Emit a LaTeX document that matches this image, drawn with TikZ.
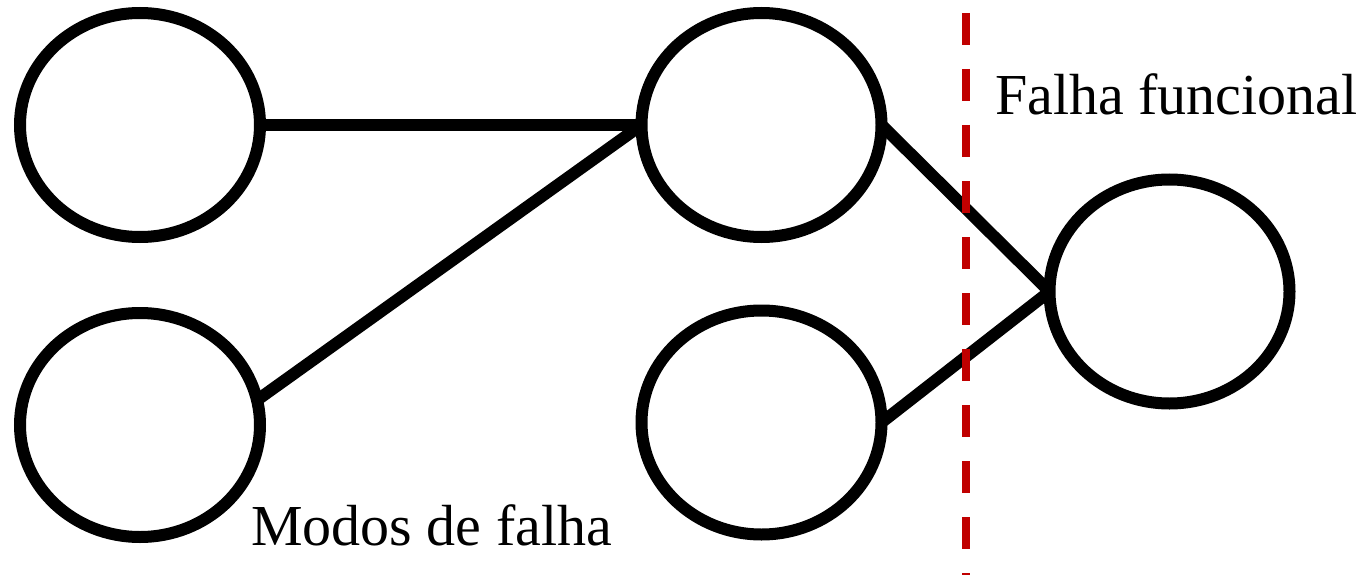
\documentclass[tikz,border=0pt]{standalone}
\usepackage{fontspec}
\setmainfont{Liberation Serif}
\usetikzlibrary{shapes.geometric}
\definecolor{cutred}{RGB}{192,0,0}
\tikzset{
  blob/.style={ellipse, draw=black, line width=12pt, minimum width=240pt, minimum height=224pt, inner sep=0pt, outer sep=0pt},
  link/.style={draw=black, line width=12pt},
  cutline/.style={draw=cutred, line width=8pt, dash pattern=on 32pt off 24pt},
  label/.style={font=\fontsize{58}{70}\selectfont, inner sep=0pt, anchor=base west}
}
\begin{document}
\begin{tikzpicture}[x=1pt,y=-1pt]
\useasboundingbox (0,0) rectangle (1365,575);
\node[blob] (A) at (140,125) {};
\node[blob] (B) at (140,425) {};
\node[blob] (C) at (761.5,125) {};
\node[blob] (D) at (761.5,422.5) {};
\node[blob] (E) at (1169.5,291.5) {};
\draw[link] (A.east) -- (C.west);
\draw[link] (B.12) -- (C.west);
\draw[link] (C.east) -- (E.west);
\draw[link] (D.east) -- (E.west);
\coordinate (cuttop) at (966,13);
\coordinate (cutbot) at (966,575);
\draw[cutline] (cuttop) -- (cutbot);
\node[label] (ff) at (995,115) {Falha funcional};
\node[label] (mf) at (251,545) {Modos de falha};
\end{tikzpicture}
\end{document}
